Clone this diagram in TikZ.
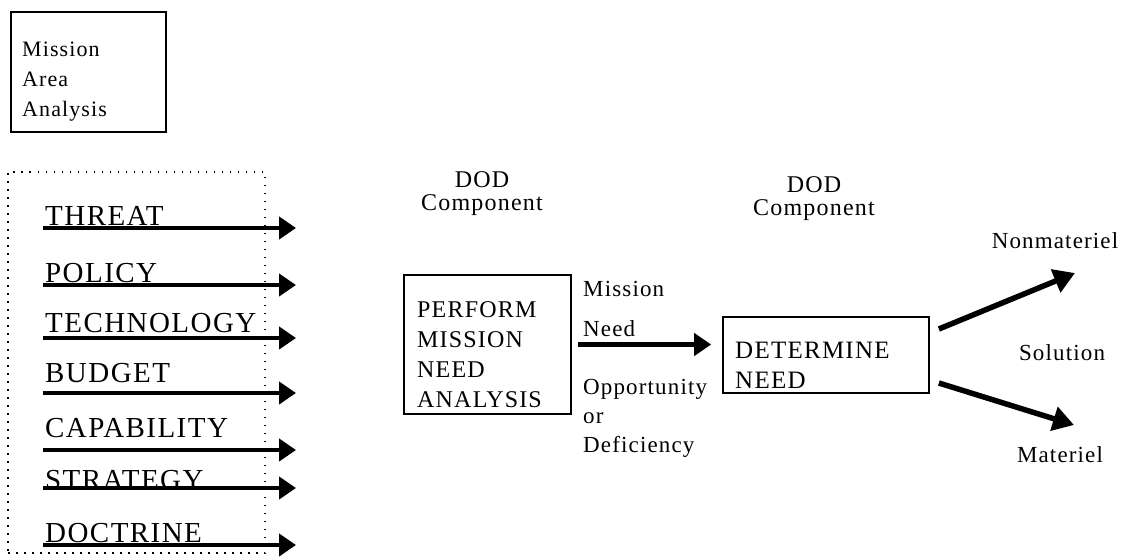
\documentclass[tikz,border=0pt]{standalone}
\usepackage{fontspec}
\setmainfont{Liberation Serif}[LetterSpace=5]
\usetikzlibrary{arrows.meta}

\begin{document}
\begin{tikzpicture}
[x=1pt,y=-1pt,
frame/.style={draw,line width=1.7pt,inner sep=0pt},
dotframe/.style={draw,line width=1.5pt,dash pattern=on 1.5pt off 6.5pt,inner sep=0pt},
factor/.style={anchor=base west,inner sep=0pt,font=\fontsize{29}{34}\selectfont},
txt/.style={anchor=north west,inner sep=0pt,align=left},
head/.style={anchor=north,inner sep=0pt,align=center,font=\fontsize{24}{23}\selectfont},
note/.style={anchor=base,inner sep=0pt,font=\fontsize{23}{30}\selectfont},
flow/.style={line width=4.5pt,-{Triangle[length=17pt,width=22pt]}},
fork/.style={line width=5.5pt,-{Triangle[length=21pt,width=24pt]}}]
\fill[white] (0,0) rectangle (1126,558);
\useasboundingbox (0,0) rectangle (1126,558);

\node[frame,minimum width=155,minimum height=120] (maa) at (88.5,72) {};
\node[txt,font=\fontsize{22}{30}\selectfont] (maatext) at (22,42) {Mission\\Area\\Analysis};

\node[dotframe,minimum width=257,minimum height=381] (drivers) at (136.5,362.5) {};
\node[factor] (threat) at (45,225) {THREAT};
\node[factor] (policy) at (45,282) {POLICY};
\node[factor] (tech) at (45,332) {TECHNOLOGY};
\node[factor] (budget) at (45,382) {BUDGET};
\node[factor] (capab) at (45,437) {CAPABILITY};
\node[factor] (strat) at (45,489) {STRATEGY};
\node[factor] (doctr) at (45,542) {DOCTRINE};

\coordinate (a1) at (43,228);
\coordinate (b1) at (296,228);
\coordinate (a2) at (43,285);
\coordinate (b2) at (296,285);
\coordinate (a3) at (43,338);
\coordinate (b3) at (296,338);
\coordinate (a4) at (43,393);
\coordinate (b4) at (296,393);
\coordinate (a5) at (43,450);
\coordinate (b5) at (296,450);
\coordinate (a6) at (43,488);
\coordinate (b6) at (296,488);
\coordinate (a7) at (43,545);
\coordinate (b7) at (296,545);

\node[head] (dod1) at (482,171) {DOD\\Component};
\node[head] (dod2) at (814,176) {DOD\\Component};

\node[frame,minimum width=167,minimum height=139] (perform) at (487.5,344.5) {};
\node[txt,font=\fontsize{24}{30}\selectfont] (performtext) at (417,301) {PERFORM\\MISSION\\NEED\\ANALYSIS};

\node[txt,font=\fontsize{23}{30}\selectfont] (need) at (583,281) {Mission\\[10pt]Need};
\node[txt,font=\fontsize{23}{29}\selectfont] (gap) at (583,379) {Opportunity\\or\\Deficiency};

\node[frame,minimum width=206,minimum height=76] (determine) at (826,355) {};
\node[txt,font=\fontsize{25}{30}\selectfont] (determinetext) at (735,342) {DETERMINE\\NEED};

\node[note] (nonmat) at (1055,248) {Nonmateriel};
\node[note] (solution) at (1062,360) {Solution};
\node[note] (mat) at (1060,462) {Materiel};
\coordinate (upend) at (1075,273);
\coordinate (lowend) at (1074,425);

\foreach \from/\to in {a1/b1,a2/b2,a3/b3,a4/b4,a5/b5,a6/b6,a7/b7}
\draw[flow] (\from) -- (\to);
\draw[flow,shorten <=6pt,shorten >=11pt] (perform.east) -- (perform.east -| determine.west);
\draw[fork] ([shift={(9,-26)}]determine.east) -- (upend);
\draw[fork] ([shift={(9,28)}]determine.east) -- (lowend);
\end{tikzpicture}
\end{document}
